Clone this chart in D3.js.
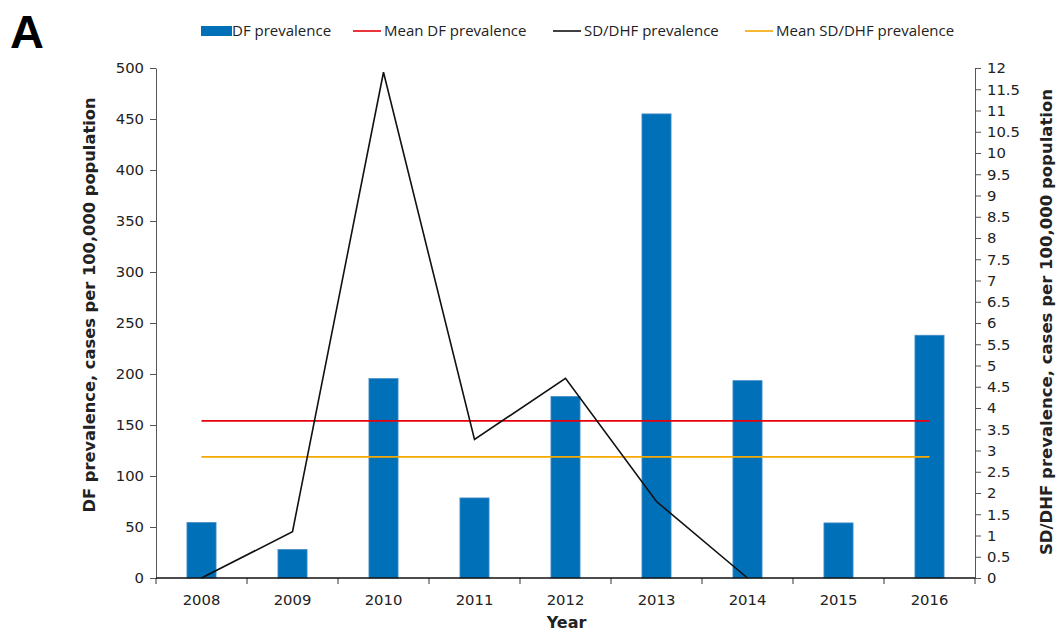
<!DOCTYPE html>
<html>
<head>
<meta charset="utf-8">
<script src="https://cdn.jsdelivr.net/npm/d3@7"></script>
<style>
  body { margin: 0; background: #fff; }
  svg { display: block; }
</style>
</head>
<body>
<svg id="chart" width="1056" height="631"></svg>
<script>
// data
const years = ['2008', '2009', '2010', '2011', '2012', '2013', '2014', '2015', '2016'];
const dfPrev = [54.5, 28, 195.5, 78.5, 178, 455, 193.5, 54, 238];
const sdPrev = [0, 1.09, 11.9, 3.26, 4.7, 1.8, 0, null, null];
const meanDF = 154;
const meanSD = 2.85;
const leftTicks = [0, 50, 100, 150, 200, 250, 300, 350, 400, 450, 500];
const rightTicks = d3.range(0, 12.01, 0.5);

const svg = d3.select('#chart');
const plotLeft = 156, plotRight = 975, plotTop = 68, plotBottom = 578;
const tickFont = '"DejaVu Sans", Verdana, sans-serif';

const x = d3.scaleBand()
  .domain(years)
  .range([plotLeft, plotRight])
  .paddingInner(0.68)
  .paddingOuter(0.34);

const yL = d3.scaleLinear().domain([0, 500]).range([plotBottom, plotTop]);
const yR = d3.scaleLinear().domain([0, 12]).range([plotBottom, plotTop]);

const center = d => x(d) + x.bandwidth() / 2;

// bars
svg.append('g').selectAll('rect')
  .data(years)
  .enter().append('rect')
    .attr('x', d => x(d))
    .attr('y', (d, i) => yL(dfPrev[i]))
    .attr('width', x.bandwidth())
    .attr('height', (d, i) => plotBottom - yL(dfPrev[i]))
    .attr('fill', '#0070B8')
    .attr('stroke', '#4a8fc9')
    .attr('stroke-width', 0.8);

// mean lines
svg.append('line')
  .attr('x1', center(years[0])).attr('x2', center(years[years.length - 1]))
  .attr('y1', yL(meanDF)).attr('y2', yL(meanDF))
  .attr('stroke', '#E8000B').attr('stroke-width', 1.6);

svg.append('line')
  .attr('x1', center(years[0])).attr('x2', center(years[years.length - 1]))
  .attr('y1', yR(meanSD)).attr('y2', yR(meanSD))
  .attr('stroke', '#F5A800').attr('stroke-width', 1.6);

// SD/DHF line
const line = d3.line()
  .defined(d => d[1] !== null)
  .x(d => center(d[0]))
  .y(d => yR(d[1]));

svg.append('path')
  .datum(years.map((d, i) => [d, sdPrev[i]]))
  .attr('d', line)
  .attr('fill', 'none')
  .attr('stroke', '#111')
  .attr('stroke-width', 1.6);

// left axis
const gL = svg.append('g')
  .attr('transform', `translate(${plotLeft},0)`)
  .call(d3.axisLeft(yL).tickValues(leftTicks).tickSize(6).tickSizeOuter(0).tickPadding(6));

// right axis
const gR = svg.append('g')
  .attr('transform', `translate(${plotRight},0)`)
  .call(d3.axisRight(yR).tickValues(rightTicks).tickSize(6).tickSizeOuter(0).tickPadding(6)
    .tickFormat(d => d3.format('~g')(d)));

// bottom axis, ticks between categories like excel
const gB = svg.append('g')
  .attr('transform', `translate(0,${plotBottom})`)
  .call(d3.axisBottom(x).tickSize(0).tickPadding(16));
gB.select('.domain').remove();

const step = x.step();
const bounds = years.map(d => center(d) - step / 2).concat([center(years[years.length - 1]) + step / 2]);
gB.selectAll('.bound')
  .data(bounds)
  .enter().append('line')
    .attr('class', 'bound')
    .attr('x1', d => d).attr('x2', d => d)
    .attr('y1', 0).attr('y2', 6)
    .attr('stroke', '#333');
gB.append('line')
  .attr('x1', plotLeft).attr('x2', plotRight)
  .attr('stroke', '#111').attr('stroke-width', 1.4);

[gL, gR, gB].forEach(g => {
  g.selectAll('text')
    .attr('font-size', '14.8px')
    .attr('font-family', tickFont)
    .attr('fill', '#222');
  g.selectAll('.tick line').attr('stroke', '#555');
  g.select('.domain').attr('stroke', '#555');
});

// axis titles
svg.append('text')
  .attr('transform', `translate(95,305) rotate(-90)`)
  .attr('text-anchor', 'middle')
  .attr('font-size', '16.3px')
  .attr('font-weight', 'bold')
  .attr('font-family', tickFont)
  .attr('fill', '#222')
  .text('DF prevalence, cases per 100,000 population');

svg.append('text')
  .attr('transform', `translate(1052,322) rotate(-90)`)
  .attr('text-anchor', 'middle')
  .attr('font-size', '16.5px')
  .attr('font-weight', 'bold')
  .attr('font-family', tickFont)
  .attr('fill', '#222')
  .text('SD/DHF prevalence, cases per 100,000 population');

svg.append('text')
  .attr('x', (plotLeft + plotRight) / 2 + 1)
  .attr('y', 628)
  .attr('text-anchor', 'middle')
  .attr('font-size', '16px')
  .attr('font-weight', 'bold')
  .attr('font-family', tickFont)
  .attr('fill', '#222')
  .text('Year');

// panel letter
svg.append('text')
  .attr('x', 10).attr('y', 48)
  .attr('font-size', '47px')
  .attr('font-weight', 'bold')
  .attr('font-family', '"Liberation Sans Narrow", "Liberation Sans", Arial, sans-serif')
  .attr('fill', '#000')
  .text('A');

// legend
const legend = [
  { label: 'DF prevalence', x: 201, type: 'rect', color: '#0070B8' },
  { label: 'Mean DF prevalence', x: 353, type: 'line', color: '#E8000B' },
  { label: 'SD/DHF prevalence', x: 553, type: 'line', color: '#111' },
  { label: 'Mean SD/DHF prevalence', x: 745, type: 'line', color: '#F5A800' }
];
const lg = svg.append('g');
legend.forEach(l => {
  if (l.type === 'rect') {
    lg.append('rect').attr('x', l.x).attr('y', 26).attr('width', 31).attr('height', 10).attr('fill', l.color);
  } else {
    lg.append('line').attr('x1', l.x).attr('x2', l.x + 28).attr('y1', 31).attr('y2', 31)
      .attr('stroke', l.color).attr('stroke-width', 1.6);
  }
  lg.append('text')
    .attr('x', l.x + 31).attr('y', 36)
    .attr('font-size', '15px')
    .attr('font-family', '"Open Sans", "Noto Sans", sans-serif')
    .attr('fill', '#222')
    .text(l.label);
});
</script>
</body>
</html>
